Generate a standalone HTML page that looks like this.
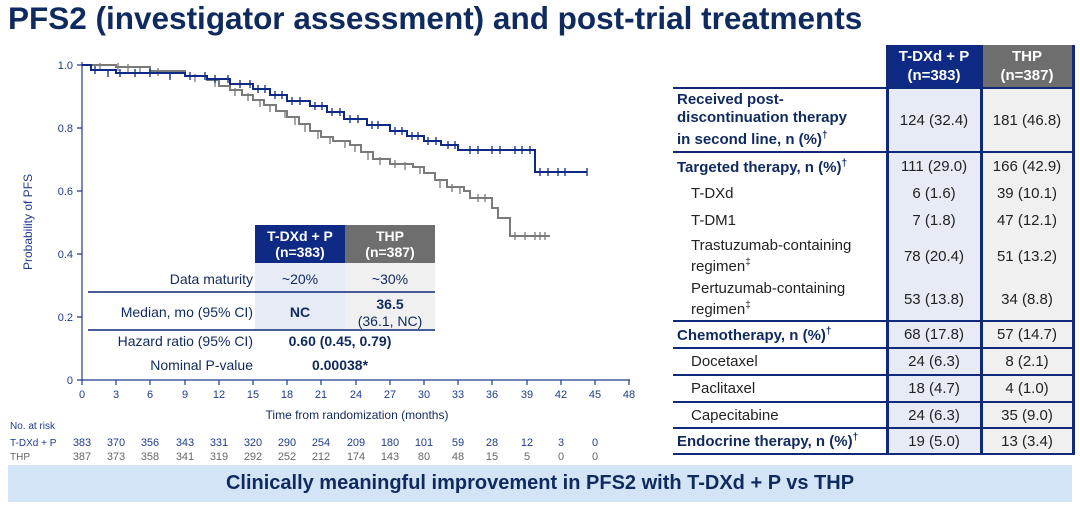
<!DOCTYPE html>
<html><head><meta charset="utf-8"><style>
body{margin:0;width:1080px;height:505px;background:#fff;font-family:"Liberation Sans",sans-serif;position:relative;overflow:hidden}
.title{position:absolute;left:8px;top:0px;font-size:31.5px;font-weight:bold;color:#0f2a5e;white-space:nowrap}
.banner{position:absolute;left:8px;top:465px;width:1064px;height:37px;background:#d4e4f7;color:#0f2a5e;font-weight:bold;font-size:20px;text-align:center;line-height:37px}
table{position:absolute;left:673px;top:45px;border-collapse:collapse;font-size:15px;color:#0f2a5e;table-layout:fixed;width:400px}
td{padding:0 4px;vertical-align:middle}
td.c1{background:#e6ebf5;text-align:center;border-left:3px solid #0f2a78;border-right:3px solid #0f2a78;color:#222}
td.c2{background:#f0f0f0;text-align:center;border-right:3px solid #0f2a78;color:#222}
td.l{color:#0f2a5e}
td.i{padding-left:18px;color:#222}
th{font-weight:bold;color:#fff;font-size:15px;line-height:19px}
tr.b td{border-bottom:2px solid #0f2a78}
</style></head><body>
<div class="title">PFS2 (investigator assessment) and post-trial treatments</div>
<svg width="670" height="465" style="position:absolute;left:0;top:0" font-family="Liberation Sans,sans-serif">
<g stroke="#1f3b8c" stroke-width="1.2">
<line x1="82" y1="62" x2="82" y2="380"/><line x1="82" y1="380" x2="630" y2="380"/>
<path d="M77 65h5M77 128h5M77 191h5M77 254h5M77 317h5M77 380h5" />
<path d="M82 380v5M116 380v5M150 380v5M185 380v5M219 380v5M253 380v5M287 380v5M321 380v5M356 380v5M390 380v5M424 380v5M458 380v5M492 380v5M527 380v5M561 380v5M595 380v5M629 380v5"/>
</g>
<g font-size="11" fill="#1f3b8c" text-anchor="end">
<text x="73" y="69">1.0</text><text x="73" y="132">0.8</text><text x="73" y="195">0.6</text><text x="73" y="258">0.4</text><text x="73" y="321">0.2</text><text x="73" y="384">0</text>
</g>
<g font-size="11" fill="#1f3b8c" text-anchor="middle">
<text x="82" y="398">0</text><text x="116" y="398">3</text><text x="150" y="398">6</text><text x="185" y="398">9</text><text x="219" y="398">12</text><text x="253" y="398">15</text><text x="287" y="398">18</text><text x="321" y="398">21</text><text x="356" y="398">24</text><text x="390" y="398">27</text><text x="424" y="398">30</text><text x="458" y="398">33</text><text x="492" y="398">36</text><text x="527" y="398">39</text><text x="561" y="398">42</text><text x="595" y="398">45</text><text x="629" y="398">48</text>
<text x="357" y="419" font-size="12" fill="#0f2a5e">Time from randomization (months)</text>
<text transform="translate(32,222) rotate(-90)" font-size="12">Probability of PFS</text>
</g>
<path fill="none" stroke="#7a7a7a" stroke-width="2" d="M82 65H116V67H150V71H185V76H207V80H219V86H230V90H242V95H253V100H264V105H276V111H287V117H299V124H310V131H321V137H333V141H350V145H361V152H373V159H390V164H413V167H424V173H435V180H447V187H464V191H470V198H492V208H498V218H510V236H550"/>
<path fill="none" stroke="#7a7a7a" stroke-width="1.3" d="M100 63v8M118 63v8M128 64v8M140 66v8M158 68v8M170 70v8M195 74v8M215 79v8M235 88v8M248 93v8M260 99v8M270 104v8M285 110v8M295 117v8M305 124v8M318 131v8M330 136v8M345 140v8M355 144v8M368 152v8M380 157v8M395 160v8M405 162v8M420 166v8M440 180v8M452 184v8M460 186v8M478 194v8M485 194v8M515 232v8M525 232v8M535 232v8M540 232v8M545 232v8"/>
<path fill="none" stroke="#0f2a84" stroke-width="2" d="M82 65H91V70H116V73H185V76H207V79H230V84H253V89H270V95H287V101H310V106H327V112H344V119H367V125H390V131H407V136H424V141H441V145H458V150H535V172H587"/>
<path fill="none" stroke="#0f2a84" stroke-width="1.3" d="M95 66v8M108 69v8M120 69v8M135 69v8M150 69v8M170 72v8M190 72v8M205 72v8M215 75v8M228 75v8M240 80v8M250 80v8M258 85v8M265 85v8M275 91v8M282 91v8M292 97v8M300 97v8M315 102v8M322 102v8M332 108v8M340 108v8M350 115v8M358 115v8M372 121v8M378 121v8M395 127v8M402 127v8M412 132v8M418 132v8M428 137v8M436 137v8M448 141v8M455 141v8M470 146v8M478 146v8M492 146v8M500 146v8M515 146v8M522 146v8M530 146v8M540 168v8M548 168v8M558 168v8M565 168v8M587 168v8"/>
<rect x="255" y="225" width="90" height="38" fill="#0f2a84"/><rect x="345" y="225" width="90" height="38" fill="#6e6e6e"/>
<rect x="255" y="263" width="90" height="67" fill="#e6ebf5"/><rect x="345" y="263" width="90" height="67" fill="#f0f0f0"/>
<g fill="#fff" font-size="14" font-weight="bold" text-anchor="middle"><text x="300" y="241">T-DXd + P</text><text x="300" y="257">(n=383)</text><text x="390" y="241">THP</text><text x="390" y="257">(n=387)</text></g>
<line x1="88" y1="292" x2="435" y2="292" stroke="#0f2a78" stroke-width="1.5"/>
<line x1="88" y1="330" x2="435" y2="330" stroke="#0f2a78" stroke-width="1.5"/>
<g font-size="14" fill="#0f2a5e">
<text x="253" y="284" text-anchor="end">Data maturity</text>
<text x="253" y="317" text-anchor="end">Median, mo (95% CI)</text>
<text x="253" y="346" text-anchor="end">Hazard ratio (95% CI)</text>
<text x="253" y="370" text-anchor="end">Nominal P-value</text>
<text x="300" y="284" text-anchor="middle">~20%</text><text x="390" y="284" text-anchor="middle">~30%</text>
<text x="300" y="317" text-anchor="middle" font-weight="bold">NC</text>
<text x="390" y="309" text-anchor="middle" font-weight="bold">36.5</text>
<text x="390" y="326" text-anchor="middle">(36.1, NC)</text>
<text x="340" y="346" text-anchor="middle" font-weight="bold">0.60 (0.45, 0.79)</text>
<text x="340" y="370" text-anchor="middle" font-weight="bold">0.00038*</text>
</g>
<g font-size="10" fill="#1f3b8c"><text x="10" y="429">No. at risk</text><text x="10" y="446">T-DXd + P</text><text x="10" y="460" fill="#666">THP</text></g>
<g font-size="11" text-anchor="middle" fill="#1f3b8c">
<text x="82" y="446">383</text><text x="116" y="446">370</text><text x="150" y="446">356</text><text x="185" y="446">343</text><text x="219" y="446">331</text><text x="253" y="446">320</text><text x="287" y="446">290</text><text x="321" y="446">254</text><text x="356" y="446">209</text><text x="390" y="446">180</text><text x="424" y="446">101</text><text x="458" y="446">59</text><text x="492" y="446">28</text><text x="527" y="446">12</text><text x="561" y="446">3</text><text x="595" y="446">0</text>
</g>
<g font-size="11" text-anchor="middle" fill="#666">
<text x="82" y="460">387</text><text x="116" y="460">373</text><text x="150" y="460">358</text><text x="185" y="460">341</text><text x="219" y="460">319</text><text x="253" y="460">292</text><text x="287" y="460">252</text><text x="321" y="460">212</text><text x="356" y="460">174</text><text x="390" y="460">143</text><text x="424" y="460">80</text><text x="458" y="460">48</text><text x="492" y="460">15</text><text x="527" y="460">5</text><text x="561" y="460">0</text><text x="595" y="460">0</text>
</g>
</svg>
<table>
<colgroup><col style="width:214px"><col style="width:94px"><col style="width:92px"></colgroup>
<tr style="height:43px"><td class="l" style="border-bottom:2px solid #0f2a78"></td><th style="background:#0f2a84;border-left:3px solid #0f2a78;border-right:3px solid #0f2a78;border-bottom:2px solid #0f2a78">T-DXd + P<br>(n=383)</th><th style="background:#6e6e6e;border-right:3px solid #0f2a78;border-bottom:2px solid #0f2a78">THP<br>(n=387)</th></tr>
<tr class="b" style="height:64px"><td class="l" style="font-weight:bold;line-height:18px">Received post-<br>discontinuation therapy<br>in second line, n (%)<sup style="font-size:10px">†</sup></td><td class="c1">124 (32.4)</td><td class="c2">181 (46.8)</td></tr>
<tr style="height:28px"><td class="l" style="font-weight:bold">Targeted therapy, n (%)<sup style="font-size:10px">†</sup></td><td class="c1">111 (29.0)</td><td class="c2">166 (42.9)</td></tr>
<tr style="height:27px"><td class="i">T-DXd</td><td class="c1">6 (1.6)</td><td class="c2">39 (10.1)</td></tr>
<tr style="height:27px"><td class="i">T-DM1</td><td class="c1">7 (1.8)</td><td class="c2">47 (12.1)</td></tr>
<tr style="height:44px"><td class="i" style="line-height:17px">Trastuzumab-containing<br>regimen<sup style="font-size:10px">‡</sup></td><td class="c1">78 (20.4)</td><td class="c2">51 (13.2)</td></tr>
<tr class="b" style="height:43px"><td class="i" style="line-height:17px">Pertuzumab-containing<br>regimen<sup style="font-size:10px">‡</sup></td><td class="c1">53 (13.8)</td><td class="c2">34 (8.8)</td></tr>
<tr class="b" style="height:27px"><td class="l" style="font-weight:bold">Chemotherapy, n (%)<sup style="font-size:10px">†</sup></td><td class="c1">68 (17.8)</td><td class="c2">57 (14.7)</td></tr>
<tr class="b" style="height:27px"><td class="i">Docetaxel</td><td class="c1">24 (6.3)</td><td class="c2">8 (2.1)</td></tr>
<tr class="b" style="height:27px"><td class="i">Paclitaxel</td><td class="c1">18 (4.7)</td><td class="c2">4 (1.0)</td></tr>
<tr class="b" style="height:26px"><td class="i">Capecitabine</td><td class="c1">24 (6.3)</td><td class="c2">35 (9.0)</td></tr>
<tr class="b" style="height:26px"><td class="l" style="font-weight:bold">Endocrine therapy, n (%)<sup style="font-size:10px">†</sup></td><td class="c1">19 (5.0)</td><td class="c2">13 (3.4)</td></tr>
</table>
<div class="banner">Clinically meaningful improvement in PFS2 with T-DXd + P vs THP</div>
</body></html>
